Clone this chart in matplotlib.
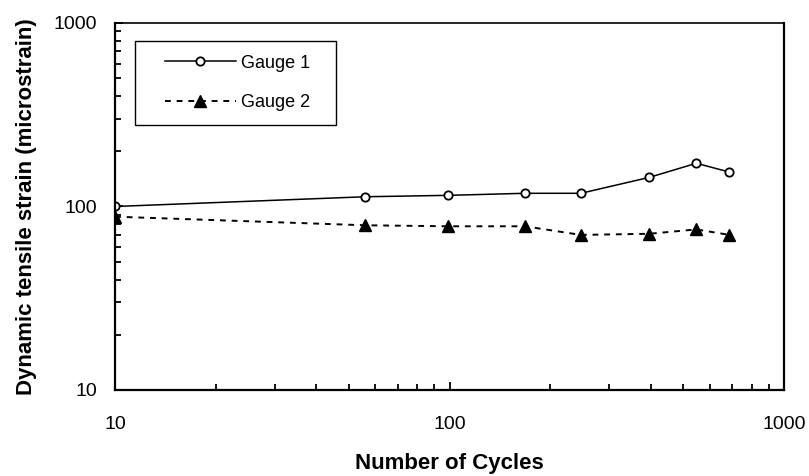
import numpy as np
import matplotlib
matplotlib.use('Agg')
from matplotlib import pyplot as plt
from matplotlib.ticker import LogLocator, NullFormatter
from matplotlib.legend_handler import HandlerLine2D

# data
cycles = [10, 56, 99, 168, 247, 395, 547, 687]
gauge1 = [100, 113, 115, 118, 118, 144, 172, 154]
gauge2 = [88, 79, 78, 78, 70, 71, 75, 70]

ticks = [10, 100, 1000]
tick_labels = ['10', '100', '1000']

plt.rcParams['font.family'] = ['Liberation Sans', 'DejaVu Sans']

fig = plt.figure(figsize=(8.09, 4.76), dpi=100)
ax = fig.add_axes([0.1422, 0.1807, 0.8269, 0.7710])

l1, = ax.plot(cycles, gauge1, '-', color='black', lw=1.1, marker='o', ms=6,
              mfc='white', mec='black', mew=1.3, label='Gauge 1')
l2, = ax.plot(cycles, gauge2, color='black', lw=1.4, dashes=(3, 3), marker='^', ms=8,
              mfc='black', mec='black', label='Gauge 2')

ax.set_xscale('log')
ax.set_yscale('log')
ax.set_xlim(10, 1000)
ax.set_ylim(10, 1000)
ax.set_xticks(ticks)
ax.set_xticklabels(tick_labels)
ax.set_yticks(ticks)
ax.set_yticklabels(tick_labels)
ax.xaxis.set_minor_locator(LogLocator(base=10, subs=np.arange(2, 10)))
ax.yaxis.set_minor_locator(LogLocator(base=10, subs=np.arange(2, 10)))
ax.xaxis.set_minor_formatter(NullFormatter())
ax.yaxis.set_minor_formatter(NullFormatter())

ax.tick_params(which='both', direction='in', width=1.3, labelsize=14)
ax.tick_params(which='major', length=6)
ax.tick_params(which='minor', length=4)
ax.tick_params(axis='y', which='major', pad=13)
ax.tick_params(axis='x', which='major', pad=19)
for s in ax.spines.values():
    s.set_linewidth(1.6)
ax.spines['top'].set_linewidth(1.2)

ax.set_xlabel('Number of Cycles', fontweight='bold', fontsize=16, labelpad=14)
ax.set_ylabel('Dynamic tensile strain (microstrain)', fontweight='bold', fontsize=16, labelpad=12)

# legend box: left pad made by the handler's xpad, width set by expand
hmap = {l1: HandlerLine2D(xpad=0.92), l2: HandlerLine2D(xpad=0.92)}
leg = ax.legend(handles=[l1, l2], handler_map=hmap, loc='upper left',
                bbox_to_anchor=(0.0299, 0.951 - 0.23, 0.3004, 0.23), mode='expand',
                fontsize=13, frameon=True, fancybox=False, edgecolor='black', framealpha=1,
                handlelength=4.82, borderpad=0.75, labelspacing=1.27, handletextpad=0.28,
                borderaxespad=0)
leg.get_frame().set_linewidth(1.0)

fig.savefig('out.png', dpi=100)
